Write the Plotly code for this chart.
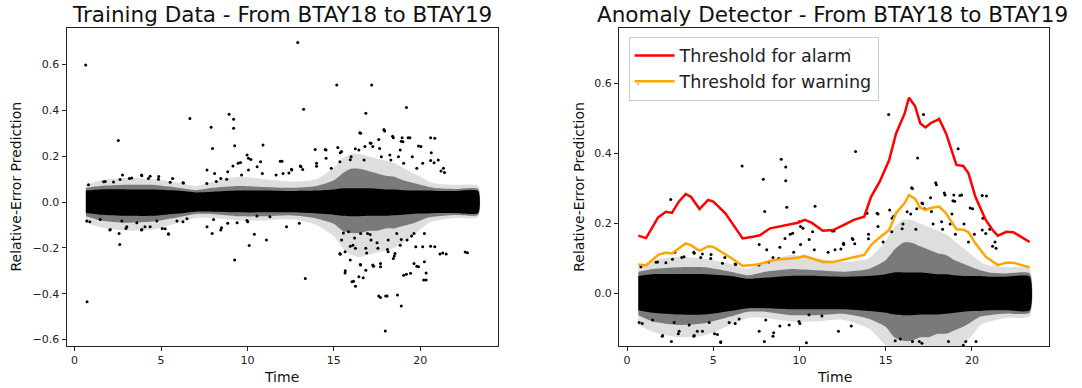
import plotly.graph_objects as go

# ---------------- data ----------------
# density envelope of the dense point cloud (Relative-Error vs Time)
time_env = [0.65, 1.5, 3.0, 4.5, 6.0, 7.0, 8.0, 9.5, 11.0, 12.5, 14.0, 15.0, 15.5, 16.0,
            16.5, 17.0, 17.5, 18.0, 18.5, 19.0, 19.5, 20.0, 20.5, 21.0, 22.0, 23.35]
core_hi = [0.05, 0.055, 0.055, 0.055, 0.05, 0.042, 0.045, 0.05, 0.05, 0.048, 0.05, 0.055, 0.06, 0.06,
           0.06, 0.06, 0.058, 0.055, 0.055, 0.052, 0.05, 0.05, 0.05, 0.048, 0.048, 0.048]
core_lo = [-0.048, -0.055, -0.06, -0.06, -0.05, -0.042, -0.042, -0.045, -0.045, -0.045, -0.05, -0.055, -0.06, -0.062,
           -0.062, -0.06, -0.06, -0.06, -0.058, -0.055, -0.052, -0.05, -0.05, -0.048, -0.048, -0.048]
mid_hi = [0.062, 0.07, 0.075, 0.075, 0.062, 0.052, 0.062, 0.07, 0.066, 0.062, 0.07, 0.095, 0.125, 0.145,
          0.145, 0.135, 0.125, 0.115, 0.11, 0.095, 0.085, 0.075, 0.066, 0.06, 0.057, 0.057]
mid_lo = [-0.062, -0.08, -0.09, -0.085, -0.066, -0.052, -0.052, -0.062, -0.062, -0.058, -0.072, -0.095, -0.125, -0.135,
          -0.135, -0.125, -0.125, -0.115, -0.115, -0.105, -0.095, -0.08, -0.066, -0.062, -0.057, -0.055]
outer_hi = [0.075, 0.095, 0.105, 0.1, 0.085, 0.07, 0.09, 0.11, 0.1, 0.09, 0.1, 0.15, 0.19, 0.21,
            0.21, 0.2, 0.19, 0.18, 0.17, 0.15, 0.13, 0.11, 0.09, 0.08, 0.075, 0.07]
outer_lo = [-0.09, -0.11, -0.125, -0.12, -0.09, -0.07, -0.07, -0.08, -0.08, -0.075, -0.1, -0.15, -0.2, -0.23,
            -0.24, -0.23, -0.22, -0.21, -0.2, -0.18, -0.15, -0.12, -0.09, -0.08, -0.07, -0.065]

# individual scattered points outside the dense cloud
pts_time = [0.64, 0.72, 2.53, 2.61, 6.67, 7.9, 7.98, 7.96, 8.94, 9.2, 9.2, 9.26, 9.26, 9.46, 9.98,
            10.1, 10.4, 10.9, 11.1, 12.0, 12.91, 13.25, 13.35, 14.55, 15.17, 17.19, 16.85, 19.2,
            15.65, 16.05, 16.25, 17.7, 18.08, 18.68, 18.9, 17.98, 16.55, 17.94, 18.44, 19.4, 19.0,
            20.84, 21.04, 20.64, 22.73, 21.5, 21.14, 19.9, 19.64, 20.24, 20.34, 20.34, 19.44, 19.04,
            17.25, 17.7, 17.7, 16.45, 15.95, 15.35, 16.55, 16.85, 18.44, 18.54, 18.14, 18.84, 19.74,
            20.14, 20.24, 15.65, 16.25, 16.85, 17.15, 17.55, 18.14, 19.24, 20.84, 16.1, 15.45, 15.85,
            16.55, 16.95, 18.64, 19.64,
            15.45, 15.35, 16.0, 16.45, 16.8, 17.15, 17.25, 17.65, 17.75, 18.24, 18.74, 19.04, 19.54,
            20.04, 20.14, 19.8, 21.34, 14.55, 14.0, 13.1, 14.85, 18.3, 18.84, 16.75,
            7.66, 8.1, 8.46, 9.6, 10.06, 10.2, 10.56, 10.76, 10.06, 11.66, 12.06, 12.56, 10.86, 9.66,
            8.86, 9.16,
            0.88, 2.04, 2.57, 2.97, 3.87, 4.07, 5.07, 5.43, 6.27, 7.66, 8.46, 8.86, 10.02, 12.26, 13.0,
            1.68, 2.77, 3.17, 3.87, 4.27, 4.87, 5.67, 6.27,
            13.06, 12.55, 13.92, 20.6, 21.4, 18.95, 16.24, 15.23,
            0.8, 1.77, 2.25, 2.63, 3.3, 3.89, 4.37, 4.85, 5.53, 6.3, 7.65, 8.2, 8.8,
            0.7, 1.48, 2.06, 2.73, 3.02, 3.6, 3.89, 4.37, 4.76, 5.24, 5.43, 5.92, 6.5, 8.04, 8.5,
            9.4, 9.97, 10.55, 11.3,
            15.37, 15.95, 16.5, 17.1, 17.6, 17.9, 18.4, 18.9, 19.3, 19.9, 20.6, 20.8, 21.2, 14.5,
            14.0, 13.2, 12.4, 11.9,
            15.37, 15.66, 16.14, 16.53, 16.7, 17.3, 17.6, 18.0, 18.5, 19.2, 19.8, 20.2, 20.6, 21.3,
            22.6, 15.95, 16.2, 16.9, 17.5, 18.1, 18.9, 19.5, 15.55, 17.1]
pts_err = [0.598, -0.435, 0.268, -0.185, 0.364, 0.326, 0.234, -0.137, 0.383, 0.361, 0.322, 0.246, -0.253, 0.169, 0.205,
           -0.19, -0.141, 0.249, -0.166, 0.178, 0.696, 0.405, -0.333, 0.227, 0.511, 0.511, 0.387, 0.413,
           -0.309, -0.348, -0.367, -0.416, -0.41, -0.406, -0.454, -0.563, 0.3, 0.31, 0.281, 0.281, 0.263,
           0.278, 0.183, 0.215, -0.221, -0.227, -0.227, -0.282, -0.268, -0.26, -0.34, -0.309, -0.311, -0.319,
           -0.275, -0.282, -0.268, -0.326, -0.253, -0.224, -0.275, -0.297, -0.246, -0.224, -0.217, -0.188, -0.195,
           -0.195, -0.137, -0.217, -0.202, -0.202, -0.166, -0.202, -0.166, -0.166, -0.195, -0.188, -0.166, -0.13,
           -0.137, -0.137, -0.137, -0.137,
           0.22, 0.176, 0.198, 0.227, 0.242, 0.256, 0.242, 0.234, 0.198, 0.205, 0.198, 0.169, 0.198,
           0.242, 0.169, 0.147, 0.147, 0.191, 0.169, 0.154, 0.147, 0.183, 0.227, 0.183,
           0.14, 0.125, 0.103, 0.172, 0.191, 0.186, 0.154, 0.176, 0.14, 0.118, 0.125, 0.14, 0.125, 0.118,
           0.132, 0.157,
           -0.086, -0.122, -0.137, -0.115, -0.122, -0.108, -0.115, -0.14, -0.086, -0.108, -0.122, -0.093, -0.086, -0.108, -0.093,
           0.089, 0.118, 0.103, 0.118, 0.103, 0.111, 0.103, 0.084,
           0.157, 0.143, 0.229, 0.181, 0.129, 0.281, 0.233, 0.238,
           0.076, 0.09, 0.088, 0.098, 0.105, 0.115, 0.113, 0.1, 0.086, 0.083, 0.081, 0.09, 0.1,
           -0.083, -0.076, -0.12, -0.083, -0.108, -0.09, -0.12, -0.108, -0.083, -0.117, -0.138, -0.083, -0.073, -0.076, -0.112,
           -0.09, -0.08, -0.061, -0.064,
           0.215, 0.185, 0.302, 0.258, 0.273, 0.316, 0.287, 0.265, 0.28, 0.244, 0.28, 0.171, 0.135, 0.229,
           0.156, 0.142, 0.127, 0.178,
           -0.228, -0.3, -0.345, -0.272, -0.33, -0.28, -0.41, -0.41, -0.235, -0.315, -0.28, -0.34, -0.193, -0.222,
           -0.218, -0.193, -0.157, -0.222, -0.178, -0.207, -0.163, -0.148, -0.135, -0.142]

# threshold curves (right panel)
thr_time = [0.65, 1.1, 1.8, 2.25, 2.6, 3.0, 3.4, 3.7, 4.2, 4.7, 5.0, 5.7, 6.1, 6.7, 7.3, 7.7, 8.3, 8.9,
            9.5, 9.9, 10.3, 10.7, 11.35, 11.95, 12.55, 13.15, 13.75, 14.15, 14.65, 15.2, 15.6, 16.1,
            16.35, 16.7, 17.0, 17.3, 17.6, 18.1, 18.5, 19.1, 19.5, 19.8, 20.2, 20.8, 21.2, 21.5, 22.0,
            22.4, 22.9, 23.35]
alarm = [0.165, 0.158, 0.217, 0.233, 0.23, 0.262, 0.284, 0.276, 0.241, 0.267, 0.262, 0.229, 0.2, 0.157,
         0.162, 0.166, 0.186, 0.192, 0.2, 0.202, 0.21, 0.202, 0.179, 0.181, 0.195, 0.21, 0.219, 0.276,
         0.319, 0.381, 0.457, 0.514, 0.559, 0.535, 0.486, 0.474, 0.486, 0.498, 0.457, 0.367, 0.364,
         0.343, 0.276, 0.21, 0.181, 0.165, 0.176, 0.175, 0.16, 0.147]
warning = [0.083, 0.08, 0.11, 0.117, 0.114, 0.128, 0.143, 0.138, 0.122, 0.135, 0.133, 0.112, 0.098, 0.079,
           0.081, 0.084, 0.093, 0.098, 0.1, 0.102, 0.107, 0.101, 0.09, 0.09, 0.097, 0.103, 0.11, 0.138,
           0.16, 0.181, 0.229, 0.258, 0.281, 0.27, 0.245, 0.238, 0.244, 0.248, 0.229, 0.183, 0.182,
           0.175, 0.143, 0.105, 0.09, 0.081, 0.088, 0.088, 0.081, 0.074]

left_title = "Training Data - From BTAY18 to BTAY19"
right_title = "Anomaly Detector - From BTAY18 to BTAY19"
x_label = "Time"
y_label = "Relative-Error Prediction"
x_ticks = [0, 5, 10, 15, 20]
left_y_ticks = [-0.6, -0.4, -0.2, 0.0, 0.2, 0.4, 0.6]
right_y_ticks = [0.0, 0.2, 0.4, 0.6]

# ---------------- figure ----------------
W, H = 1082, 388
FONT = "DejaVu Sans"
fig = go.Figure()

bands = [(outer_hi, outer_lo, "rgba(0,0,0,0.13)"),
         (mid_hi, mid_lo, "rgba(0,0,0,0.45)"),
         (core_hi, core_lo, "rgba(0,0,0,1)")]
for xa, ya in (("x", "y"), ("x2", "y2")):
    for hi, lo, col in bands:
        fig.add_trace(go.Scatter(
            x=time_env + time_env[::-1], y=hi + lo[::-1], mode="lines", fill="toself",
            fillcolor=col, line=dict(width=0, color=col, shape="spline", smoothing=0.6),
            hoverinfo="skip", showlegend=False, xaxis=xa, yaxis=ya))
    fig.add_trace(go.Scatter(
        x=pts_time, y=pts_err, mode="markers", marker=dict(size=3, color="black"),
        showlegend=False, xaxis=xa, yaxis=ya))

fig.add_trace(go.Scatter(x=thr_time, y=alarm, mode="lines", name="Threshold for alarm",
                         line=dict(color="red", width=2.5), xaxis="x2", yaxis="y2"))
fig.add_trace(go.Scatter(x=thr_time, y=warning, mode="lines", name="Threshold for warning",
                         line=dict(color="orange", width=2.5), xaxis="x2", yaxis="y2"))

px = lambda v: v / W
py = lambda v: 1 - v / H
top, bottom = 28.3, 346.0
ax_common = dict(showline=True, mirror=True, linecolor="#222", linewidth=1, ticks="outside",
                 ticklen=4, tickwidth=1, tickcolor="#222", showgrid=False, zeroline=False,
                 tickfont=dict(family=FONT, size=11, color="#222"))

fig.update_layout(
    width=W, height=H, margin=dict(l=0, r=0, t=0, b=0),
    paper_bgcolor="white", plot_bgcolor="white",
    xaxis=dict(domain=[px(66.5), px(497.5)], range=[-0.47, 24.47], tickvals=x_ticks,
               anchor="y", **ax_common),
    yaxis=dict(domain=[py(bottom), py(top)], range=[-0.628, 0.758], tickvals=left_y_ticks,
               tickformat=".1f", anchor="x", **ax_common),
    xaxis2=dict(domain=[px(619), px(1049)], range=[-0.47, 24.47], tickvals=x_ticks,
                anchor="y2", **ax_common),
    yaxis2=dict(domain=[py(bottom), py(top)], range=[-0.15, 0.757], tickvals=right_y_ticks,
                tickformat=".1f", anchor="x2", **ax_common),
    legend=dict(x=px(628.6), y=py(36.7), xanchor="left", yanchor="top", itemwidth=40,
                bgcolor="rgba(255,255,255,0.8)", bordercolor="#cccccc", borderwidth=1,
                font=dict(family=FONT, size=17.5, color="#222")),
    showlegend=True,
)

ann = [
    dict(text=left_title, x=px(282), y=py(14.5), font=dict(size=21.5)),
    dict(text=right_title, x=px(832), y=py(14.5), font=dict(size=21.5)),
    dict(text=x_label, x=px(281), y=py(377), font=dict(size=14)),
    dict(text=x_label, x=px(834), y=py(377), font=dict(size=14)),
    dict(text=y_label, x=px(15.5), y=py(187), font=dict(size=14), textangle=-90),
    dict(text=y_label, x=px(578.8), y=py(187), font=dict(size=14), textangle=-90),
]
for a in ann:
    a["font"].update(family=FONT, color="#111")
    fig.add_annotation(xref="paper", yref="paper", xanchor="center", yanchor="middle",
                       showarrow=False, **a)

# remove the browser's default 8px body margin so the figure fills the window exactly
fig.write_html("out.html", config={"displayModeBar": False},
               post_script="document.body.style.margin='0px';")
